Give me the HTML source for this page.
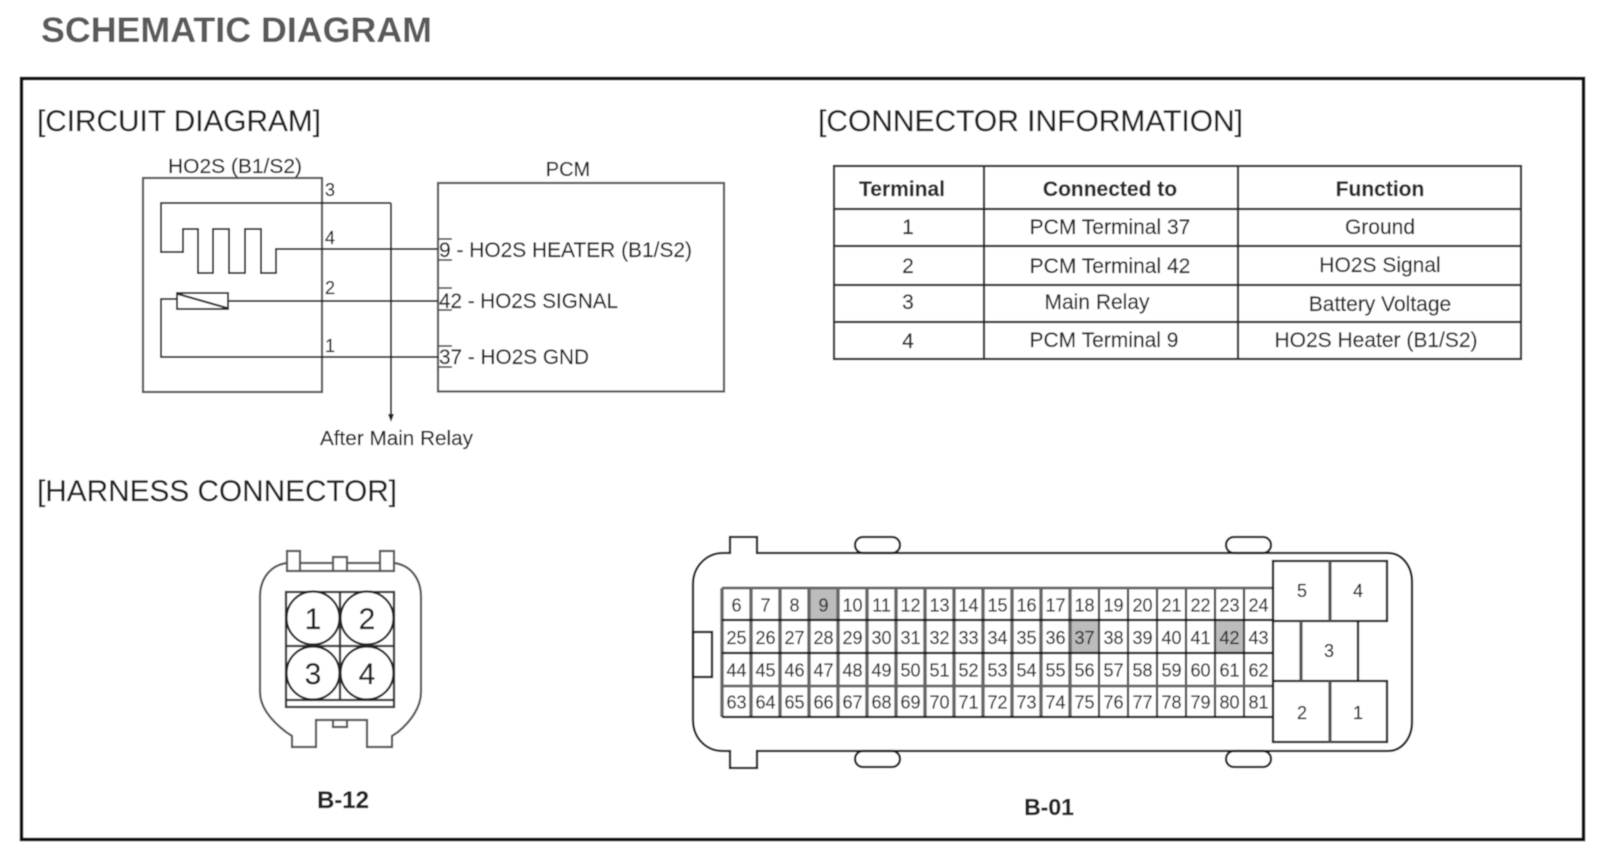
<!DOCTYPE html>
<html><head><meta charset="utf-8"><style>
html,body{margin:0;padding:0;background:#fff;width:1600px;height:864px;overflow:hidden}
svg{display:block}
text{font-family:"Liberation Sans",sans-serif;fill:#222;stroke:#222;stroke-width:.2}
.w{fill:none;stroke:#2a2a2a;stroke-width:2}
.g{fill:none;stroke:#555;stroke-width:2.2}
.k{fill:none;stroke:#1a1a1a;stroke-width:2.3}
.c text{font-size:18px;text-anchor:middle;fill:#333;stroke:#333}
.t text{font-size:21px;text-anchor:middle;fill:#2a2a2a}
.b{font-weight:bold}
</style></head><body>
<svg width="1600" height="864" viewBox="0 0 1600 864" xmlns="http://www.w3.org/2000/svg">
<defs><filter id="s" x="0" y="0" width="100%" height="100%"><feGaussianBlur stdDeviation="0.6"/></filter></defs>
<g filter="url(#s)">
<rect x="0" y="0" width="1600" height="864" fill="#fff"/>
<text x="41" y="42" font-size="35" class="b" style="fill:#5a5a5a;stroke:none" textLength="391" lengthAdjust="spacingAndGlyphs">SCHEMATIC DIAGRAM</text>
<rect x="21.5" y="78.5" width="1562" height="761" fill="none" stroke="#111" stroke-width="3.5"/>

<text x="37" y="131" font-size="30" textLength="284" lengthAdjust="spacingAndGlyphs">[CIRCUIT DIAGRAM]</text>
<text x="818" y="131" font-size="30" textLength="425" lengthAdjust="spacingAndGlyphs">[CONNECTOR INFORMATION]</text>
<text x="37" y="501" font-size="30" textLength="360" lengthAdjust="spacingAndGlyphs">[HARNESS CONNECTOR]</text>

<!-- circuit -->
<text x="168" y="173" font-size="20" textLength="134" lengthAdjust="spacingAndGlyphs">HO2S (B1/S2)</text>
<text x="568" y="176" font-size="20" text-anchor="middle">PCM</text>
<rect x="143" y="178" width="179" height="214" class="g"/>
<rect x="438" y="183" width="286" height="208.5" class="g"/>
<path class="w" d="M391 203H161V252H183V229H198V273H213V229H229V273H245V229H261V273H276V249H438"/>
<path class="w" d="M391 203V416"/>
<path d="M388 414h6l-3 8z" fill="#222"/>
<rect x="177" y="293" width="51" height="16" class="w"/>
<path class="w" d="M178 294L227 308"/>
<path class="w" d="M228 301H438M177 299H161V357H438"/>
<path class="w" style="stroke-width:1.4" d="M439 239H452M439 260H452M439 288H452M439 310H452M439 346H452M439 367H452"/>
<g font-size="18"><text x="325" y="196">3</text><text x="325" y="244">4</text><text x="325" y="294">2</text><text x="325" y="352">1</text></g>
<text x="439" y="257" font-size="21" textLength="253" lengthAdjust="spacingAndGlyphs">9 - HO2S HEATER (B1/S2)</text>
<text x="439" y="308" font-size="21" textLength="179" lengthAdjust="spacingAndGlyphs">42 - HO2S SIGNAL</text>
<text x="439" y="364" font-size="21" textLength="150" lengthAdjust="spacingAndGlyphs">37 - HO2S GND</text>
<text x="320" y="445" font-size="20" textLength="153" lengthAdjust="spacingAndGlyphs">After Main Relay</text>

<!-- table -->
<path class="w" style="stroke-width:2.2" d="M834 166H1521V359H834ZM984 166V359M1238 166V359M834 209H1521M834 246H1521M834 285H1521M834 322H1521"/>
<g class="t">
<text x="902" y="196" class="b">Terminal</text><text x="1110" y="196" class="b">Connected to</text><text x="1380" y="196" class="b">Function</text>
<text x="908" y="234">1</text><text x="1110" y="234">PCM Terminal 37</text><text x="1380" y="234">Ground</text>
<text x="908" y="273">2</text><text x="1110" y="273">PCM Terminal 42</text><text x="1380" y="272">HO2S Signal</text>
<text x="908" y="309">3</text><text x="1097" y="309">Main Relay</text><text x="1380" y="311">Battery Voltage</text>
<text x="908" y="348">4</text><text x="1104" y="347">PCM Terminal 9</text><text x="1376" y="347">HO2S Heater (B1/S2)</text>
</g>

<!-- B-12 -->
<path class="g" d="M287 563C271 565 260 578 260 597V692C260 708 273 722 286 732L292 736V747H316V720H367V747H392V736L398 732C410 722 421 708 421 692V597C421 578 410 565 394 563"/>
<path class="g" d="M287 571V551H300V571ZM333 571V557H347V571ZM380 571V551H394V571ZM300 563H333M347 563H380M287 571H394M333 720V727H347V720"/>
<path class="k" style="stroke:#333" d="M286 592H394V707H286ZM286 700H394M286 646H394M340 592V700"/>
<g fill="#fff" stroke="#222" stroke-width="2.2"><circle cx="313" cy="618" r="26.5"/><circle cx="367" cy="618" r="26.5"/><circle cx="313" cy="673" r="26.5"/><circle cx="367" cy="673" r="26.5"/></g>
<g font-size="30" text-anchor="middle"><text x="313" y="629">1</text><text x="367" y="629">2</text><text x="313" y="684">3</text><text x="367" y="684">4</text></g>
<text x="343" y="808" font-size="24" class="b" text-anchor="middle">B-12</text>

<!-- B-01 -->
<path class="k" d="M730 553H723C706 553 693 567 693 584V720C693 738 706 751 723 751H730V768H757V751H1388C1402 751 1412 738 1412 722V582C1412 566 1402 553 1388 553H757V537H730Z"/>
<rect x="855" y="537" width="45" height="16" rx="8" class="k" fill="#fff"/><rect x="1226" y="537" width="45" height="16" rx="8" class="k" fill="#fff"/>
<rect x="855" y="751" width="45" height="16" rx="8" class="k" fill="#fff"/><rect x="1226" y="751" width="45" height="16" rx="8" class="k" fill="#fff"/>
<rect x="693" y="632" width="19" height="45" class="k" fill="#fff"/>
<rect x="809" y="588" width="29" height="32" fill="#bcbcbc"/><rect x="1070" y="620" width="29" height="33" fill="#bcbcbc"/><rect x="1215" y="620" width="29" height="33" fill="#bcbcbc"/>
<path d="M722 588V717M751 588V717M780 588V717M809 588V717M838 588V717M867 588V717M896 588V717M925 588V717M954 588V717M983 588V717M1012 588V717M1041 588V717M1070 588V717" fill="none" stroke="#666" stroke-width="3.4"/>
<path d="M1099 588V717M1128 588V717M1157 588V717M1186 588V717M1215 588V717M1244 588V717" fill="none" stroke="#444" stroke-width="2.2"/>
<path d="M722 588H1273M722 686H1273" fill="none" stroke="#666" stroke-width="2.8"/>
<path d="M722 620H1273M722 653H1273M722 717H1273" fill="none" stroke="#111" stroke-width="2.2"/>
<g fill="#fff"><rect x="1273" y="561" width="114" height="60"/><rect x="1301" y="621" width="57" height="60"/><rect x="1273" y="681" width="114" height="61"/></g>
<path class="k" d="M1273 561H1387V621H1273ZM1358 621V681M1273 681H1387V742H1273ZM1273 588V742"/>
<path d="M1330 561V621M1301 621V681M1330 681V742" fill="none" stroke="#555" stroke-width="3.2"/>
<g font-size="18" text-anchor="middle"><text x="1302" y="597">5</text><text x="1358" y="597">4</text><text x="1329" y="657">3</text><text x="1302" y="719">2</text><text x="1358" y="719">1</text></g>
<g class="c" transform="translate(0,611.5)"><text x="736.5">6</text><text x="765.5">7</text><text x="794.5">8</text><text x="823.5">9</text><text x="852.5">10</text><text x="881.5">11</text><text x="910.5">12</text><text x="939.5">13</text><text x="968.5">14</text><text x="997.5">15</text><text x="1026.5">16</text><text x="1055.5">17</text><text x="1084.5">18</text><text x="1113.5">19</text><text x="1142.5">20</text><text x="1171.5">21</text><text x="1200.5">22</text><text x="1229.5">23</text><text x="1258.5">24</text></g>
<g class="c" transform="translate(0,644)"><text x="736.5">25</text><text x="765.5">26</text><text x="794.5">27</text><text x="823.5">28</text><text x="852.5">29</text><text x="881.5">30</text><text x="910.5">31</text><text x="939.5">32</text><text x="968.5">33</text><text x="997.5">34</text><text x="1026.5">35</text><text x="1055.5">36</text><text x="1084.5">37</text><text x="1113.5">38</text><text x="1142.5">39</text><text x="1171.5">40</text><text x="1200.5">41</text><text x="1229.5">42</text><text x="1258.5">43</text></g>
<g class="c" transform="translate(0,676.5)"><text x="736.5">44</text><text x="765.5">45</text><text x="794.5">46</text><text x="823.5">47</text><text x="852.5">48</text><text x="881.5">49</text><text x="910.5">50</text><text x="939.5">51</text><text x="968.5">52</text><text x="997.5">53</text><text x="1026.5">54</text><text x="1055.5">55</text><text x="1084.5">56</text><text x="1113.5">57</text><text x="1142.5">58</text><text x="1171.5">59</text><text x="1200.5">60</text><text x="1229.5">61</text><text x="1258.5">62</text></g>
<g class="c" transform="translate(0,708.5)"><text x="736.5">63</text><text x="765.5">64</text><text x="794.5">65</text><text x="823.5">66</text><text x="852.5">67</text><text x="881.5">68</text><text x="910.5">69</text><text x="939.5">70</text><text x="968.5">71</text><text x="997.5">72</text><text x="1026.5">73</text><text x="1055.5">74</text><text x="1084.5">75</text><text x="1113.5">76</text><text x="1142.5">77</text><text x="1171.5">78</text><text x="1200.5">79</text><text x="1229.5">80</text><text x="1258.5">81</text></g>
<text x="1049" y="815" font-size="23" class="b" text-anchor="middle">B-01</text>
</g>
</svg>
</body></html>
